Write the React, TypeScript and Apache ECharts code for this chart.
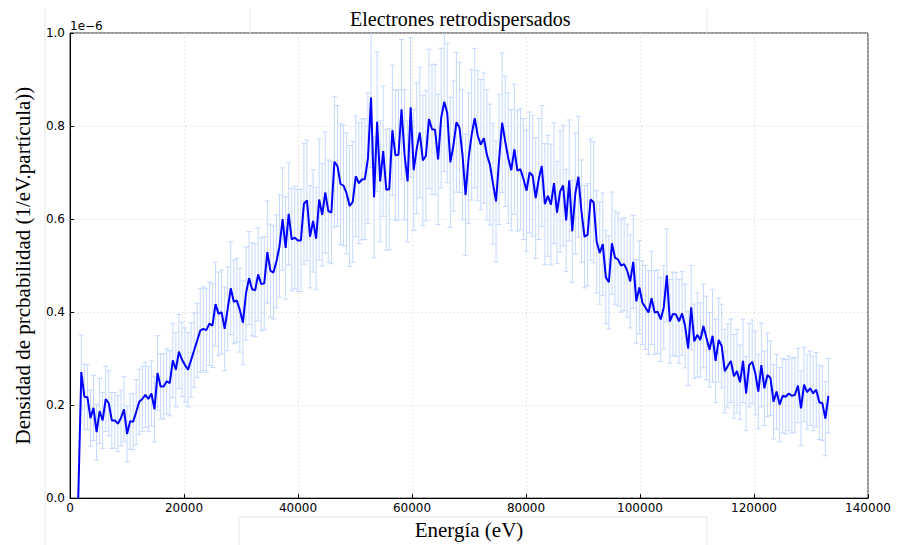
import React, { useEffect, useRef } from "react";
import * as echarts from "echarts";

const TITLE = "Electrones retrodispersados";
const X_NAME = "Energía (eV)";
const Y_NAME = "Densidad de prcbabilidad (1/eV.partícula))";
const OFFSET_TEXT = "1e\u22126";

const X_TICKS = [0, 20000, 40000, 60000, 80000, 100000, 120000, 140000];
const Y_TICKS = [0.0, 0.2, 0.4, 0.6, 0.8, 1.0];

// histogram bins (eV): first bin centre and bin width
const ENERGY_START = 1450;
const ENERGY_STEP = 535;

// probability density, in units of 1e-6 per eV per particle
const DENSITY = [
  0,
  0.271, 0.218, 0.217, 0.172, 0.194, 0.142, 0.187, 0.167, 0.213, 0.204,
  0.167, 0.167, 0.160, 0.172, 0.191, 0.138, 0.165, 0.164, 0.185, 0.207,
  0.213, 0.222, 0.213, 0.225, 0.191, 0.269, 0.240, 0.240, 0.251, 0.247,
  0.296, 0.276, 0.315, 0.298, 0.286, 0.276,
  0.297, 0.318, 0.339,
  0.360, 0.364, 0.361, 0.375, 0.371, 0.417, 0.396, 0.400, 0.364, 0.407,
  0.451, 0.422, 0.425, 0.404, 0.377, 0.440, 0.473, 0.449, 0.447, 0.481,
  0.460, 0.462, 0.529, 0.489, 0.485, 0.509, 0.542, 0.600, 0.538, 0.611,
  0.556, 0.560, 0.554, 0.554, 0.633, 0.640, 0.562, 0.596, 0.558, 0.642,
  0.609, 0.657,
  0.617, 0.614, 0.723, 0.714, 0.675, 0.672, 0.655, 0.628, 0.637, 0.692,
  0.677, 0.685, 0.686, 0.731, 0.861, 0.647, 0.809, 0.681, 0.746, 0.663,
  0.664, 0.791, 0.737, 0.738, 0.836, 0.738, 0.681, 0.840, 0.705, 0.752,
  0.786, 0.726, 0.736, 0.815, 0.793, 0.792, 0.728, 0.817, 0.852, 0.828,
  0.722, 0.757,
  0.808, 0.797, 0.738, 0.652, 0.731, 0.781, 0.817, 0.779, 0.760, 0.774,
  0.738, 0.717, 0.676, 0.638, 0.728, 0.807, 0.767, 0.731, 0.705, 0.750,
  0.704, 0.707, 0.686, 0.661, 0.700, 0.693, 0.645, 0.686, 0.714, 0.632,
  0.650, 0.631, 0.677, 0.614, 0.659, 0.672, 0.597, 0.683, 0.574, 0.655,
  0.691, 0.617, 0.562,
  0.566, 0.642, 0.636, 0.551, 0.527, 0.546, 0.475, 0.464, 0.548, 0.517,
  0.513, 0.500, 0.503, 0.489, 0.466, 0.508, 0.423, 0.453, 0.420, 0.410,
  0.399, 0.430, 0.399, 0.401, 0.384, 0.410, 0.479, 0.380, 0.396, 0.395,
  0.380, 0.397, 0.370, 0.322, 0.410, 0.337, 0.351, 0.340, 0.370, 0.344,
  0.319,
  0.349, 0.295, 0.340, 0.327, 0.273, 0.284, 0.295, 0.262, 0.273, 0.249,
  0.295, 0.225, 0.286, 0.293, 0.269, 0.229, 0.286, 0.236, 0.265, 0.258,
  0.207, 0.229, 0.201, 0.220, 0.218, 0.225, 0.220, 0.222, 0.242, 0.193,
  0.244, 0.228, 0.236, 0.225, 0.233, 0.206, 0.204, 0.171, 0.220,
];

// half-length of each error bar, same units
const ERROR = [
  0,
  0.08, 0.07, 0.07, 0.06, 0.07, 0.06, 0.07, 0.06, 0.07, 0.07,
  0.06, 0.06, 0.06, 0.06, 0.07, 0.06, 0.06, 0.06, 0.07, 0.07,
  0.07, 0.07, 0.07, 0.07, 0.07, 0.08, 0.07, 0.07, 0.07, 0.07,
  0.08, 0.08, 0.08, 0.08, 0.08, 0.08,
  0.08, 0.08, 0.08,
  0.09, 0.09, 0.09, 0.09, 0.09, 0.09, 0.09, 0.09, 0.09, 0.09,
  0.10, 0.09, 0.09, 0.09, 0.09, 0.10, 0.10, 0.10, 0.10, 0.10,
  0.10, 0.10, 0.11, 0.10, 0.10, 0.10, 0.11, 0.11, 0.11, 0.11,
  0.11, 0.11, 0.11, 0.11, 0.13, 0.13, 0.11, 0.11, 0.11, 0.13,
  0.11, 0.13,
  0.11, 0.11, 0.14, 0.13, 0.13, 0.13, 0.13, 0.13, 0.13, 0.13,
  0.13, 0.13, 0.13, 0.14, 0.15, 0.13, 0.15, 0.13, 0.14, 0.13,
  0.13, 0.14, 0.14, 0.14, 0.15, 0.14, 0.13, 0.15, 0.13, 0.14,
  0.14, 0.14, 0.14, 0.15, 0.14, 0.14, 0.14, 0.15, 0.15, 0.15,
  0.14, 0.14,
  0.15, 0.14, 0.14, 0.13, 0.14, 0.14, 0.15, 0.14, 0.14, 0.14,
  0.14, 0.13, 0.13, 0.13, 0.14, 0.15, 0.14, 0.14, 0.13, 0.14,
  0.13, 0.13, 0.13, 0.13, 0.13, 0.13, 0.13, 0.13, 0.13, 0.13,
  0.13, 0.13, 0.13, 0.11, 0.13, 0.13, 0.11, 0.13, 0.11, 0.13,
  0.13, 0.11, 0.11,
  0.11, 0.13, 0.13, 0.11, 0.11, 0.11, 0.10, 0.10, 0.11, 0.10,
  0.10, 0.10, 0.10, 0.10, 0.10, 0.10, 0.09, 0.10, 0.09, 0.09,
  0.09, 0.10, 0.09, 0.09, 0.09, 0.09, 0.10, 0.09, 0.09, 0.09,
  0.09, 0.09, 0.09, 0.08, 0.09, 0.08, 0.09, 0.08, 0.09, 0.09,
  0.08,
  0.10, 0.09, 0.09, 0.09, 0.09, 0.09, 0.09, 0.09, 0.09, 0.08,
  0.09, 0.08, 0.09, 0.09, 0.09, 0.08, 0.09, 0.08, 0.09, 0.08,
  0.08, 0.08, 0.08, 0.08, 0.08, 0.08, 0.08, 0.08, 0.08, 0.08,
  0.08, 0.08, 0.08, 0.08, 0.08, 0.08, 0.08, 0.08, 0.08,
];

const SERIF = "'Liberation Serif', 'DejaVu Serif', serif";
const SANS = "'DejaVu Sans', sans-serif";
const ERR_COLOR = "#c4d9ff";

export default function App() {
  const ref = useRef<HTMLDivElement>(null);

  useEffect(() => {
    document.body.style.margin = "0";
    if (!ref.current) return;
    const chart = echarts.init(ref.current, undefined, { renderer: "svg" });

    const energies = DENSITY.map((_, i) => ENERGY_START + i * ENERGY_STEP);
    const lineData = energies.map((e, i) => [e, DENSITY[i]]);
    const errData = energies.map((e, i) => [e, DENSITY[i] - ERROR[i], DENSITY[i] + ERROR[i]]);

    const grey = "#e6e6e6";
    const vline = (x: number, y1: number, y2: number) => ({
      type: "line",
      shape: { x1: x, y1, x2: x, y2 },
      style: { stroke: grey, lineWidth: 1 },
      silent: true,
    });

    chart.setOption({
      animation: false,
      backgroundColor: "#ffffff",
      title: {
        text: TITLE,
        left: 345,
        top: 4,
        textStyle: { fontFamily: SERIF, fontSize: 20, fontWeight: "normal", color: "#000" },
      },
      grid: {
        left: 70,
        right: 31,
        top: 33,
        bottom: 45,
        show: true,
        borderColor: "#333",
        borderWidth: 1,
        containLabel: false,
      },
      graphic: [
        vline(45, 9, 545),
        vline(250, 9, 33),
        vline(707, 9, 33),
        vline(239, 517, 545),
        vline(707, 517, 545),
        {
          type: "line",
          shape: { x1: 239, y1: 517, x2: 707, y2: 517 },
          style: { stroke: grey, lineWidth: 1 },
          silent: true,
        },
        {
          type: "text",
          left: 70,
          top: 20,
          style: { text: OFFSET_TEXT, fontFamily: SANS, fontSize: 12, fill: "#000" },
        },
      ],
      xAxis: {
        type: "value",
        min: X_TICKS[0],
        max: X_TICKS[X_TICKS.length - 1],
        interval: X_TICKS[1] - X_TICKS[0],
        name: X_NAME,
        nameLocation: "middle",
        nameGap: 20,
        nameTextStyle: { fontFamily: SERIF, fontSize: 21, color: "#000" },
        axisLine: { show: true, lineStyle: { color: "#000", width: 1 } },
        axisTick: { show: true, inside: true, length: 4, lineStyle: { color: "#000" } },
        axisLabel: {
          color: "#000",
          fontFamily: SANS,
          fontSize: 12,
          margin: 4,
          formatter: (v: number) => String(v),
        },
        splitLine: { show: true, lineStyle: { color: "#d4d4d4", type: [1, 3], width: 1 } },
      },
      yAxis: {
        type: "value",
        min: Y_TICKS[0],
        max: Y_TICKS[Y_TICKS.length - 1],
        interval: 0.2,
        name: Y_NAME,
        nameLocation: "middle",
        nameGap: 37,
        nameTextStyle: { fontFamily: SERIF, fontSize: 21, color: "#000" },
        axisLine: { show: true, lineStyle: { color: "#000", width: 1 } },
        axisTick: { show: true, inside: true, length: 4, lineStyle: { color: "#000" } },
        axisLabel: {
          color: "#000",
          fontFamily: SANS,
          fontSize: 12,
          margin: 5,
          formatter: (v: number) => v.toFixed(1),
        },
        splitLine: { show: true, lineStyle: { color: "#d4d4d4", type: [1, 3], width: 1 } },
      },
      series: [
        {
          type: "custom",
          name: "error",
          clip: true,
          z: 1,
          encode: { x: 0, y: [1, 2] },
          data: errData,
          renderItem: (params: any, api: any) => {
            const x = api.value(0);
            const lo = api.coord([x, api.value(1)]);
            const hi = api.coord([x, api.value(2)]);
            const hw = 2.5;
            const style = { stroke: ERR_COLOR, lineWidth: 1, fill: "none" };
            return {
              type: "group",
              children: [
                { type: "line", shape: { x1: hi[0], y1: hi[1], x2: lo[0], y2: lo[1] }, style },
                { type: "line", shape: { x1: hi[0] - hw, y1: hi[1], x2: hi[0] + hw, y2: hi[1] }, style },
                { type: "line", shape: { x1: lo[0] - hw, y1: lo[1], x2: lo[0] + hw, y2: lo[1] }, style },
              ],
            };
          },
        },
        {
          type: "line",
          name: "densidad",
          data: lineData,
          showSymbol: false,
          symbol: "none",
          z: 3,
          lineStyle: { color: "#0000ff", width: 2 },
          itemStyle: { color: "#0000ff" },
        },
      ],
    });

    return () => chart.dispose();
  }, []);

  return (
    <div
      ref={ref}
      style={{ position: "fixed", left: 0, top: 0, width: 899, height: 545, background: "#fff" }}
    />
  );
}
